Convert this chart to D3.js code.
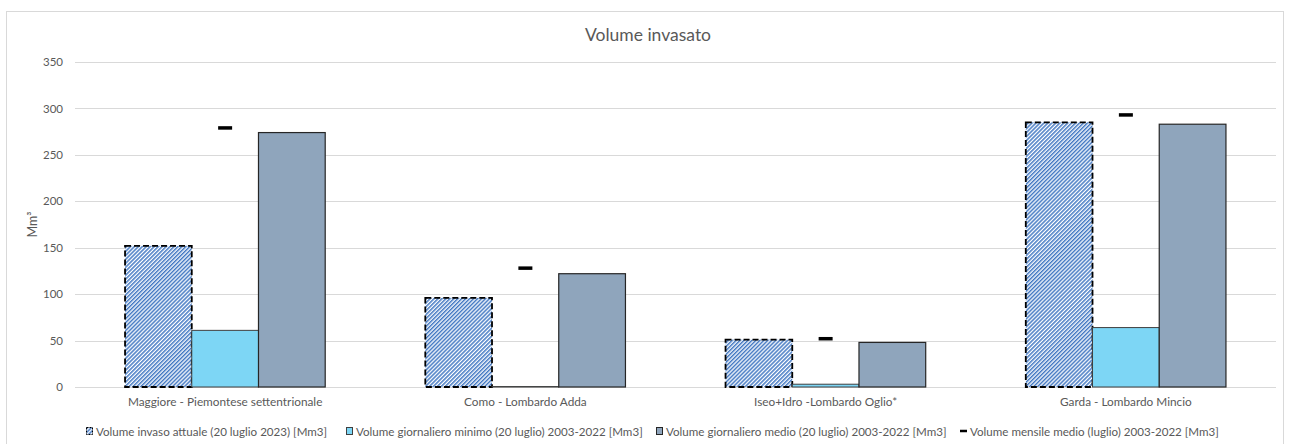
<!DOCTYPE html>
<meta charset="utf-8">
<style>
body { margin: 0; background: #fff; }
text { font-family: "Lato", "Open Sans", sans-serif; }
</style>
<body>
<script src="https://d3js.org/d3.v7.min.js"></script>
<script>

var categories = ["Maggiore - Piemontese settentrionale", "Como - Lombardo Adda", "Iseo+Idro -Lombardo Oglio*", "Garda - Lombardo Mincio"];
var invasoAttuale = [152, 96, 51, 285];
var minimoGiorn = [61, 0.5, 3, 64];
var medioGiorn = [274, 122, 48, 283];
var mensileMedio = [279, 128, 52, 293];
var yTicks = [0, 50, 100, 150, 200, 250, 300, 350];
var seriesNames = [
  "Volume invaso attuale (20 luglio 2023) [Mm3]",
  "Volume giornaliero minimo (20 luglio) 2003-2022 [Mm3]",
  "Volume giornaliero medio (20 luglio) 2003-2022 [Mm3]",
  "Volume mensile medio (luglio) 2003-2022 [Mm3]"
];

var width = 1290, height = 444;
var margin = {left: 75, right: 14, top: 62, bottom: 57};

var svg = d3.select("body").append("svg")
    .attr("width", width)
    .attr("height", height);

var defs = svg.append("defs");
var pat = defs.append("pattern")
    .attr("id", "hatch")
    .attr("patternUnits", "userSpaceOnUse")
    .attr("width", 2.8).attr("height", 2.8)
    .attr("patternTransform", "rotate(45)");
pat.append("rect").attr("width", 2.8).attr("height", 2.8).attr("fill", "#fff");
pat.append("rect").attr("width", 1.5).attr("height", 2.8).attr("fill", "#4379c3");

// chart frame
svg.append("rect")
    .attr("x", 6.5).attr("y", 11.5)
    .attr("width", 1277).attr("height", 450)
    .attr("fill", "none").attr("stroke", "#d9d9d9");

var x = d3.scaleBand()
    .domain(categories)
    .range([margin.left, width - margin.right]);

// three bars fill the middle two thirds of each band
var xs = d3.scaleBand()
    .domain([0, 1, 2])
    .range([x.bandwidth() / 6, x.bandwidth() * 5 / 6])
    .padding(0);

var y = d3.scaleLinear()
    .domain([0, 350])
    .range([height - margin.bottom, margin.top]);

// gridlines
svg.append("g")
  .selectAll("line")
  .data(yTicks)
  .join("line")
    .attr("x1", margin.left).attr("x2", width - margin.right)
    .attr("y1", d => Math.round(y(d)) + 0.5).attr("y2", d => Math.round(y(d)) + 0.5)
    .attr("stroke", "#d9d9d9");

var yAxis = svg.append("g")
    .attr("transform", "translate(" + margin.left + ",0)")
    .call(d3.axisLeft(y).tickValues(yTicks).tickSize(0).tickPadding(12));
yAxis.select(".domain").remove();
yAxis.selectAll("text")
    .attr("fill", "#595959")
    .style("font-size", "11.5px")
    .style("font-family", "Lato, sans-serif");

svg.append("text")
    .attr("transform", "translate(37," + y(175) + ") rotate(-90)")
    .attr("text-anchor", "middle")
    .attr("fill", "#595959")
    .style("font-size", "12.5px")
    .text("Mm³");

svg.append("text")
    .attr("x", 648).attr("y", 41)
    .attr("text-anchor", "middle")
    .attr("fill", "#595959")
    .style("font-size", "17.5px")
    .text("Volume invasato");

var xAxis = svg.append("g")
    .attr("transform", "translate(0," + y(0) + ")")
    .call(d3.axisBottom(x).tickSize(0).tickPadding(11));
xAxis.select(".domain").remove();
xAxis.selectAll("text")
    .attr("fill", "#595959")
    .style("font-size", "11.8px")
    .style("font-family", "Lato, sans-serif");

var groups = svg.append("g")
  .selectAll("g")
  .data(categories)
  .join("g")
    .attr("transform", d => "translate(" + x(d) + ",0)");

// invaso attuale (hatched, dashed border)
groups.append("rect")
    .attr("x", xs(0))
    .attr("y", (d, i) => y(invasoAttuale[i]))
    .attr("width", xs.bandwidth())
    .attr("height", (d, i) => y(0) - y(invasoAttuale[i]))
    .attr("fill", "url(#hatch)")
    .attr("stroke", "#000")
    .attr("stroke-width", 1.8)
    .attr("stroke-dasharray", "6,3");

groups.append("rect")
    .attr("x", xs(1))
    .attr("y", (d, i) => y(minimoGiorn[i]))
    .attr("width", xs.bandwidth())
    .attr("height", (d, i) => y(0) - y(minimoGiorn[i]))
    .attr("fill", "#7dd6f5")
    .attr("stroke", "#404040")
    .attr("stroke-width", 1);

groups.append("rect")
    .attr("x", xs(2))
    .attr("y", (d, i) => y(medioGiorn[i]))
    .attr("width", xs.bandwidth())
    .attr("height", (d, i) => y(0) - y(medioGiorn[i]))
    .attr("fill", "#8fa5bc")
    .attr("stroke", "#262626")
    .attr("stroke-width", 1.2);

// mensile medio markers
groups.append("line")
    .attr("x1", x.bandwidth() / 2 - 7)
    .attr("x2", x.bandwidth() / 2 + 7)
    .attr("y1", (d, i) => y(mensileMedio[i]))
    .attr("y2", (d, i) => y(mensileMedio[i]))
    .attr("stroke", "#000")
    .attr("stroke-width", 3.5);

// legend
var legendX = [86, 346, 656, 960];
var leg = svg.append("g")
  .selectAll("g")
  .data(seriesNames)
  .join("g")
    .attr("transform", (d, i) => "translate(" + legendX[i] + ",432)");

leg.each(function(d, i) {
  var g = d3.select(this);
  if (i === 0) {
    g.append("rect").attr("x", 0.5).attr("y", -4.5).attr("width", 6).attr("height", 7)
      .attr("fill", "url(#hatch)").attr("stroke", "#000").attr("stroke-dasharray", "2,1");
  } else if (i === 1) {
    g.append("rect").attr("x", 0.5).attr("y", -4.5).attr("width", 6).attr("height", 7)
      .attr("fill", "#7dd6f5").attr("stroke", "#404040");
  } else if (i === 2) {
    g.append("rect").attr("x", 0.5).attr("y", -4.5).attr("width", 6).attr("height", 7)
      .attr("fill", "#8fa5bc").attr("stroke", "#262626");
  } else {
    g.append("line").attr("x1", 0).attr("x2", 7).attr("y1", -1).attr("y2", -1)
      .attr("stroke", "#000").attr("stroke-width", 2.5);
  }
  g.append("text")
    .attr("x", 10).attr("y", 4)
    .attr("fill", "#595959")
    .style("font-size", "11.6px")
    .text(d);
});

</script>
</body>
